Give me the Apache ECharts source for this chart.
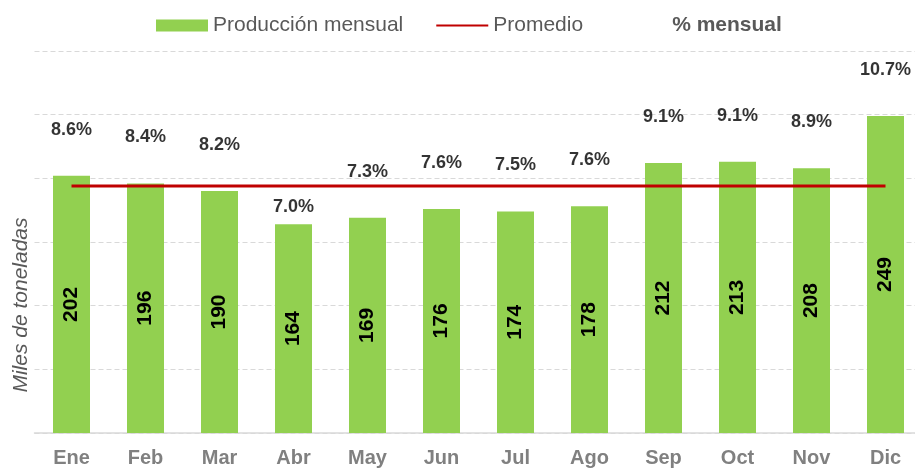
<!DOCTYPE html>
<html>
<head>
<meta charset="utf-8">
<script src="https://cdn.jsdelivr.net/npm/echarts@6/dist/echarts.min.js"></script>
<style>
  html, body { margin: 0; padding: 0; background: #fff; }
  #chart { width: 915px; height: 468px; }
</style>
</head>
<body>
<div id="chart"></div>
<script>
// datos
const meses = ['Ene', 'Feb', 'Mar', 'Abr', 'May', 'Jun', 'Jul', 'Ago', 'Sep', 'Oct', 'Nov', 'Dic']
const produccion = [202, 196, 190, 164, 169, 176, 174, 178, 212, 213, 208, 249]
const promedio = [194, 194, 194, 194, 194, 194, 194, 194, 194, 194, 194, 194]
const porcentaje = ['8.6', '8.4', '8.2', '7.0', '7.3', '7.6', '7.5', '7.6', '9.1', '9.1', '8.9', '10.7']

const fuente = '"Liberation Sans", Arial, sans-serif'

// la etiqueta de abril va más pegada a la barra
const puntosPct = produccion.map((v, i) => {
  const item = { value: v }
  if (i === 3) item.label = { distance: 8 }
  return item
})

const chart = echarts.init(document.getElementById('chart'))

chart.setOption({
  animation: false,
  textStyle: { fontFamily: fuente },
  legend: {
    left: 156,
    top: 15,
    padding: 0,
    itemWidth: 52,
    itemHeight: 12,
    itemGap: 32,
    textStyle: { fontSize: 21, color: '#595959', fontFamily: fuente },
    data: [
      { name: 'Producción mensual', icon: 'rect' },
      { name: 'Promedio', itemStyle: { opacity: 0 } },
      { name: '% mensual', icon: 'none', textStyle: { fontWeight: 'bold' } }
    ]
  },
  grid: {
    left: 34.5,
    width: 888,
    top: 51,
    bottom: 35,
    outerBoundsMode: 'none'
  },
  xAxis: {
    type: 'category',
    data: meses,
    axisTick: { show: false },
    axisLine: { lineStyle: { color: '#d9d9d9', width: 1.5 } },
    axisLabel: {
      fontSize: 20,
      fontWeight: 'bold',
      color: '#808080',
      margin: 15,
      fontFamily: fuente
    }
  },
  yAxis: {
    type: 'value',
    min: 0,
    max: 300,
    interval: 50,
    axisLabel: { show: false },
    axisLine: { show: false },
    axisTick: { show: false },
    splitLine: { lineStyle: { color: '#d9d9d9', type: [5, 3] } },
    name: 'Miles de toneladas',
    nameLocation: 'middle',
    nameGap: 3,
    nameTextStyle: {
      fontSize: 21,
      fontStyle: 'italic',
      color: '#595959',
      fontFamily: fuente,
      padding: [0, 126, 0, 0]
    }
  },
  series: [
    {
      name: 'Producción mensual',
      type: 'bar',
      data: produccion,
      barWidth: '50%',
      itemStyle: { color: '#92d050' },
      label: {
        show: true,
        position: 'inside',
        rotate: 90,
        fontSize: 21,
        fontWeight: 'bold',
        color: '#000',
        fontFamily: fuente
      }
    },
    {
      name: 'Promedio',
      type: 'line',
      data: promedio,
      symbol: 'none',
      lineStyle: { color: '#c00000', width: 3 },
      itemStyle: { color: '#c00000' },
      z: 3
    },
    {
      name: '% mensual',
      type: 'scatter',
      data: puntosPct,
      symbolSize: 0,
      itemStyle: { color: 'transparent' },
      label: {
        show: true,
        position: 'top',
        distance: 37,
        fontSize: 18,
        fontWeight: 'bold',
        color: '#000',
        fontFamily: fuente,
        formatter: p => porcentaje[p.dataIndex] + '%'
      }
    }
  ]
})

window.onresize = function () {
  chart.resize()
}
</script>
</body>
</html>
